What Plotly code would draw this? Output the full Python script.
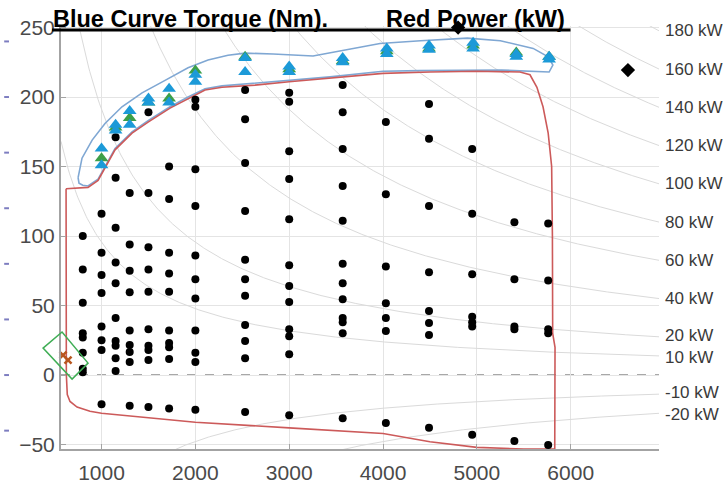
import numpy as np
import plotly.graph_objects as go

# Axis windows (engine speed in rpm, torque in Nm)
X_RANGE = [568, 6941]
Y_RANGE = [-53.2, 251.1]

# Constant-power contours, labelled on the right
power_levels_kw = [180, 160, 140, 120, 100, 80, 60, 40, 20, 10, -10, -20]
# small vertical nudges (px) keeping the crowded labels apart
label_nudge_px = {20: 1.5, 10: -1.5, -10: 1.5, -20: -1.5}

# Measured operating points, grouped by speed column
dot_columns_rpm = [800, 1000, 1150, 1300, 1500, 1720, 2000, 2530, 3000,
                   3570, 4030, 4490, 4950, 5400, 5760]
dot_columns_torque = [
    [100, 76, 52, 30, 27, 16, 4.5, 2],
    [116, 88, 72, 59, 35, 25, 18, -21],
    [171, 142, 106, 81, 66, 41, 24.5, 21, 12, 3],
    [131, 94, 75, 59.5, 32, 21.6, 16.5, 9.4, -22],
    [189, 131, 92, 76, 60, 33, 21, 18, 10.8, -23],
    [150, 126.6, 88, 73, 60, 32, 23, 20, 11.5, -24],
    [198, 193, 148, 121.6, 86, 69, 55, 32, 16, 9.4, -25],
    [205, 184, 152.5, 118, 83, 69, 57, 36, 24.5, 12, -26.6],
    [203, 196.6, 161, 141, 112, 79, 64, 52.5, 33, 28, 15, -29],
    [208.6, 189, 162.6, 136, 111, 80, 66, 54.6, 41, 38, 30, -31],
    [182, 130, 78, 51.6, 41, 31.7, -34.5],
    [195, 170, 121.6, 74, 46, 37.4, 28.8, -38],
    [162.6, 116, 72.6, 42, 38, 35, -43],
    [110, 69, 35, 33, -47.5],
    [109, 68, 33, 30, -50.4],
]

# Full-load points (two test sets)
green_rpm = [1000, 1150, 1300, 1500, 1720, 2000, 2530, 3000, 3570, 4040, 4490, 4960, 5420, 5770]
green_torque = [156, 178, 185, 196, 199, 219, 229, 220, 226, 233, 235, 237, 232, 229]
blue_rpm = [1000, 1000, 1150, 1150, 1300, 1300, 1500, 1500, 1720, 1720, 2000, 2000,
            2530, 2530, 3000, 3000, 3570, 3570, 4040, 4040, 4490, 4490, 4960, 4960,
            5420, 5420, 5770, 5770]
blue_torque = [163, 151, 180, 176, 190, 180, 199, 196, 206, 196, 216, 211,
               228, 218, 222, 218, 228, 225, 235, 231, 237, 234, 239, 235,
               231, 229, 229, 227]

# Operating envelope (red, power) – closed outline
red_rpm = [622, 700, 856, 963, 1037, 1144, 1325, 1496, 1730, 1922, 2103, 2284, 2636,
           3000, 3435, 4000, 4500, 5000, 5460, 5566, 5640, 5705, 5760, 5797, 5805,
           5808, 5833, 5835, 5830, 5500, 5000, 4500, 4000, 3000, 2000, 1000, 877,
           739, 664, 635, 625, 622]
red_torque = [134, 134.5, 135, 140, 149, 162, 174, 182, 192, 199, 205, 207, 208.6,
              211, 213.7, 217, 218, 218.5, 218, 216, 207, 193, 174, 150, 100,
              30, 20, -40, -53, -53.2, -52, -48, -42, -38, -34, -27.5, -26,
              -23, -19, -14, 0, 134]

# Full-load band (blue, torque) – closed outline
blue_loop_rpm = [750, 792, 900, 1037, 1218, 1432, 1677, 1922, 2135, 2348, 2530, 2828,
                 3254, 3540, 3968, 4400, 4900, 5250, 5600, 5760, 5810, 5770, 5260,
                 4390, 4000, 3435, 3000, 2636, 2284, 2103, 1922, 1730, 1496, 1325,
                 1144, 1037, 963, 856, 800, 760, 750]
blue_loop_torque = [142, 156, 169, 181, 193, 203, 212, 221, 226.6, 230, 231.6, 231,
                    229.5, 233, 238.5, 240.5, 242.4, 240.5, 235, 229, 223, 218, 219.4,
                    219, 218.5, 214.5, 212, 209.5, 208, 206, 200, 193, 183, 175,
                    163, 150, 141, 136, 136.5, 138, 142]

# Idle points and the idle window
idle_rpm = [536, 590, 643]
idle_torque = [18, 14.4, 10.8]
idle_box_rpm = [377, 579, 856, 686, 377]
idle_box_torque = [19.4, 31, 8.6, -2.9, 19.4]

# Rated points
rated_rpm = [4800, 6610]
rated_torque = [250, 219.4]

# Secondary torque scale ticks drawn at the far left
side_ticks = [-40, 0, 40, 80, 120, 160, 200, 240]

x_ticks = [1000, 2000, 3000, 4000, 5000, 6000]
y_ticks = [-50, 0, 50, 100, 150, 200, 250]


def xpaper(rpm):
    return (rpm - X_RANGE[0]) / (X_RANGE[1] - X_RANGE[0])


def power_torque(kw, rpm):
    return kw * 1000.0 / (rpm * 2 * np.pi / 60.0)


fig = go.Figure()

rpm_line = np.linspace(X_RANGE[0], X_RANGE[1], 500)
for kw in power_levels_kw:
    fig.add_trace(go.Scatter(x=rpm_line, y=power_torque(kw, rpm_line), mode="lines",
                             line=dict(color="#dadada", width=1), hoverinfo="skip"))

fig.add_trace(go.Scatter(x=blue_loop_rpm, y=blue_loop_torque, mode="lines",
                         line=dict(color="#7fa7d3", width=1.6)))
fig.add_trace(go.Scatter(x=red_rpm, y=red_torque, mode="lines",
                         line=dict(color="#cc5a5a", width=1.6)))

dot_x, dot_y = [], []
for rpm, col in zip(dot_columns_rpm, dot_columns_torque):
    dot_x += [rpm] * len(col)
    dot_y += col
fig.add_trace(go.Scatter(x=dot_x, y=dot_y, mode="markers",
                         marker=dict(color="black", size=8), cliponaxis=False))

fig.add_trace(go.Scatter(x=green_rpm, y=green_torque, mode="markers",
                         marker=dict(symbol="triangle-up", color="#3c9f48", size=12)))
fig.add_trace(go.Scatter(x=blue_rpm, y=blue_torque, mode="markers",
                         marker=dict(symbol="triangle-up", color="#1c9ad8", size=12)))

fig.add_trace(go.Scatter(x=idle_rpm, y=idle_torque, mode="markers", cliponaxis=False,
                         marker=dict(symbol="x-thin", size=7,
                                     line=dict(color="#b8561f", width=2.5))))

fig.add_trace(go.Scatter(x=rated_rpm, y=rated_torque, mode="markers", cliponaxis=False,
                         marker=dict(symbol="diamond", color="black", size=11)))

shapes = [
    dict(type="line", xref="paper", yref="y", x0=0, x1=1, y0=0, y1=0,
         line=dict(color="#a8a8a8", width=2, dash="dash"), layer="below"),
    dict(type="path", xref="paper", yref="y",
         path="M " + " L ".join(f"{xpaper(r):.5f},{t}" for r, t in
                                zip(idle_box_rpm, idle_box_torque)) + " Z",
         line=dict(color="#3fae55", width=1.5)),
    # title underline
    dict(type="line", xref="paper", yref="paper", x0=-0.015, x1=0.852,
         y0=0.9905, y1=0.9905, line=dict(color="black", width=3)),
]
for t in side_ticks:
    shapes.append(dict(type="line", xref="paper", yref="y", x0=-0.095, x1=-0.087,
                       y0=t, y1=t, line=dict(color="#7d7dc0", width=2)))

annotations = [
    dict(text="<b>Blue Curve Torque (Nm).</b>", xref="paper", yref="paper",
         x=-0.017, y=1.016, xanchor="left", yanchor="middle", showarrow=False,
         font=dict(size=23.5, color="black")),
    dict(text="<b>Red Power (kW)</b>", xref="paper", yref="paper",
         x=0.540, y=1.016, xanchor="left", yanchor="middle", showarrow=False,
         font=dict(size=23.5, color="black")),
]
for kw in power_levels_kw:
    annotations.append(dict(text=f"{kw} kW", xref="paper", yref="y", x=1.007,
                            y=float(power_torque(kw, X_RANGE[1])), xanchor="left",
                            yanchor="middle", showarrow=False,
                            yshift=label_nudge_px.get(kw, 0),
                            font=dict(size=17, color="#3a3a3a")))

fig.update_layout(
    width=728, height=487,
    margin=dict(l=61, r=69, t=26, b=38, autoexpand=False),
    paper_bgcolor="white", plot_bgcolor="white",
    showlegend=False,
    font=dict(family="Liberation Sans, Arial, sans-serif"),
    shapes=shapes, annotations=annotations,
)
axis_style = dict(showgrid=True, gridcolor="#e4e4e4", gridwidth=1, zeroline=False,
                  showline=True, linecolor="#a3a3a3", linewidth=2,
                  ticks="inside", ticklen=5, tickcolor="#a3a3a3", automargin=False,
                  tickfont=dict(size=21, color="#4a4a4a"))
fig.update_xaxes(range=X_RANGE, tickvals=x_ticks, ticklabelstandoff=4, **axis_style)
fig.update_yaxes(range=Y_RANGE, tickvals=y_ticks, **axis_style)

fig.write_html("out.html")
